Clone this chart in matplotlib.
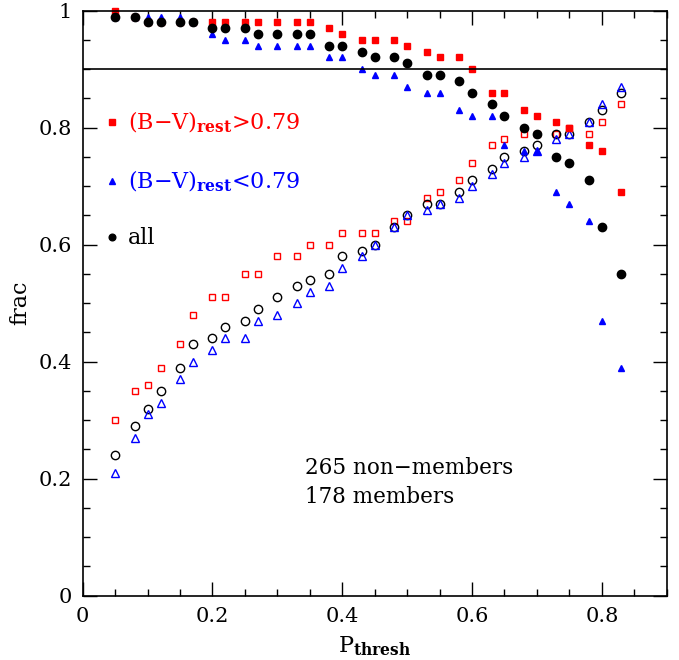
import matplotlib
matplotlib.use("Agg")
import matplotlib.pyplot as plt
from matplotlib.ticker import MultipleLocator

plt.rcParams['font.family'] = ['DejaVu Serif']
plt.rcParams['mathtext.fontset'] = 'dejavuserif'

# P_thresh values
p_thresh = [0.05, 0.08, 0.10, 0.12, 0.15, 0.17, 0.20, 0.22, 0.25, 0.27,
            0.30, 0.33, 0.35, 0.38, 0.40, 0.43, 0.45, 0.48, 0.50, 0.53,
            0.55, 0.58, 0.60, 0.63, 0.65, 0.68, 0.70, 0.73, 0.75, 0.78,
            0.80, 0.83]

# filled symbols (upper branch)
red_filled = [1.00, 0.99, 0.98, 0.98, 0.98, 0.98, 0.98, 0.98, 0.98, 0.98,
              0.98, 0.98, 0.98, 0.97, 0.96, 0.95, 0.95, 0.95, 0.94, 0.93,
              0.92, 0.92, 0.90, 0.86, 0.86, 0.83, 0.82, 0.81, 0.80, 0.77,
              0.76, 0.69]
blue_filled = [0.99, 0.99, 0.99, 0.99, 0.99, 0.98, 0.96, 0.95, 0.95, 0.94,
               0.94, 0.94, 0.94, 0.92, 0.92, 0.90, 0.89, 0.89, 0.87, 0.86,
               0.86, 0.83, 0.82, 0.82, 0.77, 0.76, 0.76, 0.69, 0.67, 0.64,
               0.47, 0.39]
all_filled = [0.99, 0.99, 0.98, 0.98, 0.98, 0.98, 0.97, 0.97, 0.97, 0.96,
              0.96, 0.96, 0.96, 0.94, 0.94, 0.93, 0.92, 0.92, 0.91, 0.89,
              0.89, 0.88, 0.86, 0.84, 0.82, 0.80, 0.79, 0.75, 0.74, 0.71,
              0.63, 0.55]

# open symbols (lower branch)
red_open = [0.30, 0.35, 0.36, 0.39, 0.43, 0.48, 0.51, 0.51, 0.55, 0.55,
            0.58, 0.58, 0.60, 0.60, 0.62, 0.62, 0.62, 0.64, 0.64, 0.68,
            0.69, 0.71, 0.74, 0.77, 0.78, 0.79, 0.79, 0.79, 0.80, 0.79,
            0.81, 0.84]
blue_open = [0.21, 0.27, 0.31, 0.33, 0.37, 0.40, 0.42, 0.44, 0.44, 0.47,
             0.48, 0.50, 0.52, 0.53, 0.56, 0.58, 0.60, 0.63, 0.65, 0.66,
             0.67, 0.68, 0.70, 0.72, 0.74, 0.75, 0.76, 0.78, 0.79, 0.81,
             0.84, 0.87]
all_open = [0.24, 0.29, 0.32, 0.35, 0.39, 0.43, 0.44, 0.46, 0.47, 0.49,
            0.51, 0.53, 0.54, 0.55, 0.58, 0.59, 0.60, 0.63, 0.65, 0.67,
            0.67, 0.69, 0.71, 0.73, 0.75, 0.76, 0.77, 0.79, 0.79, 0.81,
            0.83, 0.86]

labels = ['(B\u2212V)$_{\\mathbf{rest}}$>0.79',
          '(B\u2212V)$_{\\mathbf{rest}}$<0.79',
          'all']
frac_line = 0.9

fig = plt.figure(figsize=(6.79, 6.60), dpi=100)
ax = fig.add_axes([0.1218, 0.0974, 0.8601, 0.8864])

ax.plot(p_thresh, red_open, 's', ls='none', mfc='none', mec='red', ms=4.8, mew=1.0, clip_on=False)
ax.plot(p_thresh, all_open, 'o', ls='none', mfc='none', mec='black', ms=6.0, mew=1.0, clip_on=False)
ax.plot(p_thresh, blue_open, '^', ls='none', mfc='none', mec='blue', ms=5.2, mew=1.0, clip_on=False)

h_red, = ax.plot(p_thresh, red_filled, 's', ls='none', color='red', ms=4.6, clip_on=False)
h_blue, = ax.plot(p_thresh, blue_filled, '^', ls='none', color='blue', ms=5.0, clip_on=False)
h_all, = ax.plot(p_thresh, all_filled, 'o', ls='none', color='black', ms=6.0, clip_on=False)

ax.axhline(frac_line, color='black', lw=1.2)

leg = ax.legend([h_red, h_blue, h_all], labels, loc='upper left',
                bbox_to_anchor=(0.028, 0.845), frameon=False, fontsize=16,
                handlelength=0.4, handletextpad=0.5, labelspacing=1.5,
                markerscale=0.8, borderaxespad=0)
for txt, c in zip(leg.get_texts(), ['red', 'blue', 'black']):
    txt.set_color(c)

ax.text(0.342, 0.218, '265 non\u2212members', fontsize=15.5, va='center')
ax.text(0.342, 0.169, '178 members', fontsize=15.5, va='center')

ax.set_xlim(0, 0.9)
ax.set_ylim(0, 1)
ax.xaxis.set_minor_locator(MultipleLocator(0.05))
ax.yaxis.set_minor_locator(MultipleLocator(0.05))
ax.set_xticks([0, 0.2, 0.4, 0.6, 0.8])
ax.set_xticklabels(['0', '0.2', '0.4', '0.6', '0.8'])
ax.set_yticks([0, 0.2, 0.4, 0.6, 0.8, 1.0])
ax.set_yticklabels(['0', '0.2', '0.4', '0.6', '0.8', '1'])
ax.tick_params(which='both', direction='in', top=True, right=True, labelsize=15, width=1.0)
ax.tick_params(which='major', length=10, pad=8)
ax.tick_params(which='minor', length=5)
for s in ax.spines.values():
    s.set_linewidth(1.2)

ax.set_xlabel('P$_{\\mathbf{thresh}}$', fontsize=16, labelpad=6)
ax.set_ylabel('frac', fontsize=16, labelpad=5)

fig.savefig('out.png', dpi=100)
